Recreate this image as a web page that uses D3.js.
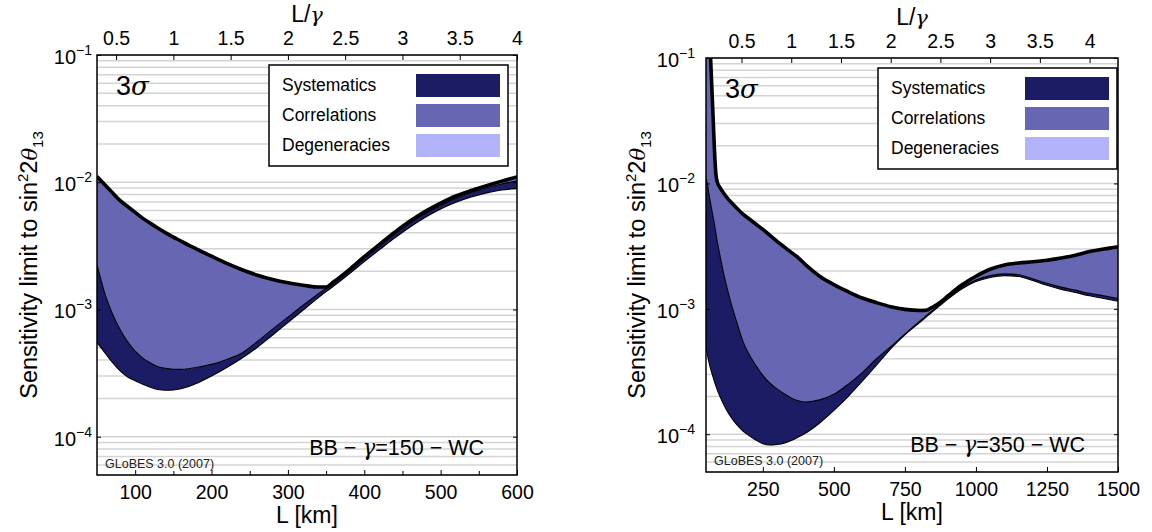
<!DOCTYPE html>
<html><head><meta charset="utf-8">
<script src="https://cdn.jsdelivr.net/npm/d3@7"></script>
<style>
html,body{margin:0;padding:0;background:#fff;}
svg{display:block;font-family:"Liberation Sans",Arial,sans-serif;}
</style></head>
<body><svg id="chart" width="1152" height="532"></svg>
<script>
// ---------------- data ----------------
const gammas = [150, 350];
const yTicks = [1e-4, 1e-3, 1e-2, 1e-1];
const yExponents = ["−4", "−3", "−2", "−1"];
const topTicks = [0.5, 1, 1.5, 2, 2.5, 3, 3.5, 4];
const topTickLabels = ["0.5", "1", "1.5", "2", "2.5", "3", "3.5", "4"];
const bottomTicksLeft = [100, 200, 300, 400, 500, 600];
const bottomMinorLeft = [150, 250, 350, 450, 550];
const bottomTicksRight = [250, 500, 750, 1000, 1250, 1500];
const legendLabels = ["Systematics", "Correlations", "Degeneracies"];
const expLabels = ["BB − γ=150 − WC", "BB − γ=350 − WC"];

// left panel, gamma = 150
const leftL    = [50, 60, 70, 80, 90, 100, 110, 120, 130, 140, 150, 160, 170, 180, 200, 220, 240, 260, 280, 300, 320, 340, 350, 360, 380, 400, 420, 440, 460, 480, 500, 520, 540, 560, 580, 600];
const leftCorr = [1.11e-2, 9.6e-3, 8.3e-3, 7.2e-3, 6.45e-3, 5.8e-3, 5.2e-3, 4.75e-3, 4.35e-3, 4.0e-3, 3.7e-3, 3.45e-3, 3.2e-3, 3.0e-3, 2.62e-3, 2.3e-3, 2.05e-3, 1.86e-3, 1.72e-3, 1.62e-3, 1.55e-3, 1.5e-3, 1.5e-3, 1.65e-3, 2.05e-3, 2.6e-3, 3.25e-3, 4.05e-3, 4.95e-3, 5.9e-3, 6.85e-3, 7.8e-3, 8.6e-3, 9.4e-3, 1.02e-2, 1.1e-2];
const leftSyst = [2.25e-3, 1.35e-3, 9.3e-4, 7.0e-4, 5.6e-4, 4.7e-4, 4.15e-4, 3.8e-4, 3.55e-4, 3.45e-4, 3.38e-4, 3.38e-4, 3.42e-4, 3.5e-4, 3.7e-4, 4.05e-4, 4.55e-4, 5.6e-4, 7.0e-4, 8.7e-4, 1.08e-3, 1.33e-3, 1.47e-3, 1.62e-3, 2.0e-3, 2.53e-3, 3.15e-3, 3.92e-3, 4.8e-3, 5.7e-3, 6.6e-3, 7.5e-3, 8.3e-3, 9.05e-3, 9.7e-3, 1.02e-2];
const leftStat = [5.5e-4, 4.6e-4, 3.85e-4, 3.3e-4, 2.95e-4, 2.75e-4, 2.58e-4, 2.45e-4, 2.35e-4, 2.32e-4, 2.33e-4, 2.38e-4, 2.48e-4, 2.62e-4, 3.0e-4, 3.5e-4, 4.15e-4, 5.05e-4, 6.3e-4, 7.9e-4, 9.9e-4, 1.24e-3, 1.38e-3, 1.53e-3, 1.9e-3, 2.38e-3, 2.95e-3, 3.65e-3, 4.45e-3, 5.3e-3, 6.15e-3, 6.95e-3, 7.65e-3, 8.25e-3, 8.7e-3, 8.9e-3];

// right panel, gamma = 350
const rightL    = [50, 55, 60, 65, 70, 75, 80, 85, 90, 100, 120, 140, 160, 180, 200, 225, 250, 275, 300, 325, 350, 375, 400, 450, 500, 550, 600, 650, 700, 750, 800, 825, 850, 875, 900, 950, 1000, 1050, 1100, 1150, 1200, 1250, 1300, 1350, 1400, 1450, 1500];
const rightCorr = [0.7, 0.4, 0.21, 0.115, 0.062, 0.034, 0.018, 0.0118, 0.0102, 9.2e-3, 7.9e-3, 7.0e-3, 6.3e-3, 5.7e-3, 5.25e-3, 4.75e-3, 4.3e-3, 3.85e-3, 3.45e-3, 3.12e-3, 2.82e-3, 2.55e-3, 2.25e-3, 1.82e-3, 1.56e-3, 1.37e-3, 1.22e-3, 1.12e-3, 1.04e-3, 9.9e-4, 9.7e-4, 9.75e-4, 1.04e-3, 1.13e-3, 1.26e-3, 1.55e-3, 1.82e-3, 2.07e-3, 2.24e-3, 2.32e-3, 2.37e-3, 2.44e-3, 2.54e-3, 2.68e-3, 2.86e-3, 3.0e-3, 3.12e-3];
const rightSyst = [1.1e-2, 9.9e-3, 8.3e-3, 7.2e-3, 6.2e-3, 5.4e-3, 4.7e-3, 4.0e-3, 3.4e-3, 2.6e-3, 1.6e-3, 1.07e-3, 7.6e-4, 5.5e-4, 4.4e-4, 3.55e-4, 2.95e-4, 2.55e-4, 2.3e-4, 2.1e-4, 1.95e-4, 1.85e-4, 1.81e-4, 1.88e-4, 2.08e-4, 2.5e-4, 3.1e-4, 4.0e-4, 5.0e-4, 6.3e-4, 7.9e-4, 8.8e-4, 9.8e-4, 1.09e-3, 1.22e-3, 1.48e-3, 1.7e-3, 1.84e-3, 1.9e-3, 1.87e-3, 1.74e-3, 1.6e-3, 1.49e-3, 1.41e-3, 1.33e-3, 1.27e-3, 1.21e-3];
const rightStat = [4.9e-4, 4.3e-4, 3.8e-4, 3.4e-4, 3.1e-4, 2.85e-4, 2.62e-4, 2.42e-4, 2.25e-4, 1.98e-4, 1.6e-4, 1.35e-4, 1.18e-4, 1.06e-4, 9.8e-5, 9.0e-5, 8.4e-5, 8.2e-5, 8.3e-5, 8.5e-5, 8.9e-5, 9.5e-5, 1.02e-4, 1.23e-4, 1.55e-4, 2.0e-4, 2.65e-4, 3.55e-4, 4.8e-4, 6.2e-4, 7.7e-4, 8.6e-4, 9.6e-4, 1.07e-3, 1.19e-3, 1.44e-3, 1.65e-3, 1.78e-3, 1.84e-3, 1.81e-3, 1.68e-3, 1.54e-3, 1.43e-3, 1.35e-3, 1.27e-3, 1.21e-3, 1.15e-3];

// ---------------- style ----------------
const colSyst = "#1c1c64", colCorr = "#6666b2", colDeg = "#b3b3fb";
const legendColors = [colSyst, colCorr, colDeg];
const gridColor = "#d4d4d4";

const svg = d3.select("#chart");

const panels = [
  {x0: 97, x1: 517, y0: 55, y1: 475, Lmax: 600, gamma: gammas[0], L: leftL, stat: leftStat, syst: leftSyst, corr: leftCorr,
   bottomTicks: bottomTicksLeft, bottomMinor: bottomMinorLeft, labelGap: 5, titleX: 37, expLabel: expLabels[0], id: "a"},
  {x0: 706, x1: 1118, y0: 58, y1: 472, Lmax: 1500, gamma: gammas[1], L: rightL, stat: rightStat, syst: rightSyst, corr: rightCorr,
   bottomTicks: bottomTicksRight, bottomMinor: [], labelGap: 11, titleX: 645, expLabel: expLabels[1], id: "b"}
];

panels.forEach(p => {
  const x = d3.scaleLinear().domain([50, p.Lmax]).range([p.x0, p.x1]);
  const xTop = d3.scaleLinear().domain([50 / p.gamma, p.Lmax / p.gamma]).range([p.x0, p.x1]);
  const y = d3.scaleLog().domain([5e-5, 0.1]).range([p.y1, p.y0]);
  const g = svg.append("g");

  // clip
  svg.append("clipPath").attr("id", "clip" + p.id)
    .append("rect").attr("x", p.x0).attr("y", p.y0).attr("width", p.x1 - p.x0).attr("height", p.y1 - p.y0);

  // grid lines at every 1..9 x decade
  const gridVals = [];
  [1e-5, 1e-4, 1e-3, 1e-2].forEach(d => { for (let k = 1; k <= 9; k++) { const v = d * k; if (v >= 5e-5 && v <= 0.1) gridVals.push(v); } });
  gridVals.push(0.1);
  g.append("g").selectAll("line").data(gridVals).join("line")
    .attr("x1", p.x0).attr("x2", p.x1)
    .attr("y1", d => y(d)).attr("y2", d => y(d))
    .attr("stroke", gridColor).attr("stroke-width", 1.5);

  const idx = d3.range(p.L.length);
  const plot = g.append("g").attr("clip-path", `url(#clip${p.id})`);
  const areaSyst = d3.area().curve(d3.curveMonotoneX)
    .x(i => x(p.L[i])).y0(i => y(p.stat[i])).y1(i => y(p.syst[i]));
  const areaCorr = d3.area().curve(d3.curveMonotoneX)
    .x(i => x(p.L[i])).y0(i => y(p.syst[i])).y1(i => y(p.corr[i]));
  plot.append("path").datum(idx).attr("d", areaSyst).attr("fill", colSyst);
  plot.append("path").datum(idx).attr("d", areaCorr).attr("fill", colCorr);
  const line = key => d3.line().curve(d3.curveMonotoneX).x(i => x(p.L[i])).y(i => y(p[key][i]));
  plot.append("path").datum(idx).attr("d", line("stat")).attr("fill", "none").attr("stroke", "#000").attr("stroke-width", 1.1);
  plot.append("path").datum(idx).attr("d", line("syst")).attr("fill", "none").attr("stroke", "#000").attr("stroke-width", 1.1);
  plot.append("path").datum(idx).attr("d", line("corr")).attr("fill", "none").attr("stroke", "#000").attr("stroke-width", 3.6)
    .attr("stroke-linejoin", "round");

  // frame
  g.append("rect").attr("x", p.x0).attr("y", p.y0).attr("width", p.x1 - p.x0).attr("height", p.y1 - p.y0)
    .attr("fill", "none").attr("stroke", "#000").attr("stroke-width", 1.5);

  // bottom axis
  const bAxis = d3.axisBottom(x).tickValues(p.bottomTicks).tickSize(-5).tickPadding(10).tickFormat(d3.format("d"));
  const bg = g.append("g").attr("transform", `translate(0,${p.y1})`).call(bAxis);
  bg.select(".domain").remove();
  bg.selectAll("text").attr("font-size", 19.5).attr("font-family", "Liberation Sans, Arial, sans-serif").attr("fill", "#000");
  if (p.bottomMinor.length) {
    const mAxis = d3.axisBottom(x).tickValues(p.bottomMinor).tickSize(-4).tickFormat("");
    const mg = g.append("g").attr("transform", `translate(0,${p.y1})`).call(mAxis);
    mg.select(".domain").remove();
  }

  // top axis
  const tAxis = d3.axisTop(xTop).tickValues(topTicks).tickSize(-5).tickPadding(10).tickFormat((d, i) => topTickLabels[i]);
  const tg = g.append("g").attr("transform", `translate(0,${p.y0})`).call(tAxis);
  tg.select(".domain").remove();
  tg.selectAll("text").attr("font-size", 19.5).attr("font-family", "Liberation Sans, Arial, sans-serif").attr("fill", "#000");

  // left/right decade ticks
  const lAxis = d3.axisLeft(y).tickValues(yTicks).tickSize(-4).tickFormat("");
  const lg = g.append("g").attr("transform", `translate(${p.x0},0)`).call(lAxis);
  lg.select(".domain").remove();
  const rAxis = d3.axisRight(y).tickValues(yTicks).tickSize(-4).tickFormat("");
  const rg = g.append("g").attr("transform", `translate(${p.x1},0)`).call(rAxis);
  rg.select(".domain").remove();

  // y tick labels 10^k
  yTicks.forEach((v, i) => {
    const t = g.append("text").attr("x", p.x0 - p.labelGap).attr("y", y(v) + 9)
      .attr("text-anchor", "end").attr("font-size", 20);
    t.append("tspan").text("10");
    t.append("tspan").attr("dy", -9).attr("font-size", 14).text(yExponents[i]);
  });

  // axis titles
  const tt = g.append("text").attr("x", (p.x0 + p.x1) / 2).attr("y", p.y0 - 33)
    .attr("text-anchor", "middle").attr("font-size", 23);
  tt.append("tspan").text("L/");
  tt.append("tspan").attr("font-style", "italic").attr("font-family", "DejaVu Serif, serif").attr("font-size", 21).text("γ");

  g.append("text").attr("x", (p.x0 + p.x1) / 2).attr("y", p.y1 + 48)
    .attr("text-anchor", "middle").attr("font-size", 23).text("L [km]");

  const yt = g.append("text").attr("transform", `translate(${p.titleX},${(p.y0 + p.y1) / 2}) rotate(-90)`)
    .attr("text-anchor", "middle").attr("font-size", 23.5);
  yt.append("tspan").text("Sensitivity limit to sin");
  yt.append("tspan").attr("dy", -9).attr("font-size", 15).text("2");
  yt.append("tspan").attr("dy", 9).text("2");
  yt.append("tspan").attr("font-style", "italic").attr("font-family", "DejaVu Serif, serif").attr("font-size", 21).text("θ");
  yt.append("tspan").attr("dy", 6).attr("font-size", 15).text("13");

  // 3 sigma
  const s = g.append("text").attr("x", p.x0 + 19).attr("y", p.y0 + 40).attr("font-size", 27);
  s.append("tspan").text("3");
  s.append("tspan").attr("font-style", "italic").attr("font-family", "DejaVu Serif, serif").attr("font-size", 26).text("σ");

  // experiment label
  const parts = p.expLabel.split("γ");
  const e = g.append("text").attr("x", p.x1 - 33).attr("y", p.y1 - 20).attr("text-anchor", "end").attr("font-size", 21.5);
  e.append("tspan").text(parts[0]);
  e.append("tspan").attr("font-style", "italic").attr("font-family", "DejaVu Serif, serif").text("γ");
  e.append("tspan").text(parts[1]);

  g.append("text").attr("x", p.x0 + 8).attr("y", p.y1 - 7).attr("font-size", 12.5).attr("fill", "#222").text("GLoBES 3.0 (2007)");

  // legend
  const lx = p.x0 + 172, ly = p.y0 + 10, lw = 239, lh = 101;
  const leg = g.append("g");
  leg.append("rect").attr("x", lx).attr("y", ly).attr("width", lw).attr("height", lh)
    .attr("fill", "#fff").attr("stroke", "#000").attr("stroke-width", 1.5);
  legendLabels.forEach((lab, i) => {
    const ry = ly + 9 + i * 30;
    leg.append("rect").attr("x", lx + 147).attr("y", ry).attr("width", 84).attr("height", 23).attr("fill", legendColors[i]);
    leg.append("text").attr("x", lx + 13).attr("y", ry + 17).attr("font-size", 17.5).text(lab);
  });
});
</script>
</body></html>
